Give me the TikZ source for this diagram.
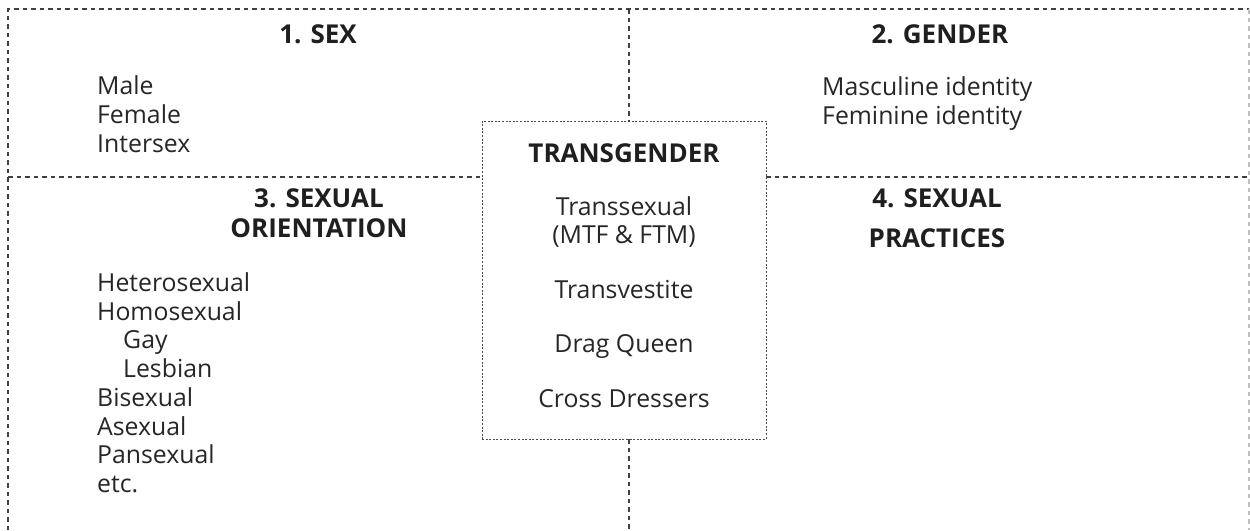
\documentclass[tikz,border=0pt]{standalone}
\usepackage{fontspec}
\setmainfont{Open Sans}
\begin{document}
\begin{tikzpicture}[x=1pt,y=-1pt,
  frame/.style={draw=black!75,line width=1.3pt,dash pattern=on 4.5pt off 4pt},
  lightframe/.style={draw=black!25,line width=1.3pt,dash pattern=on 4.5pt off 4pt},
  innerbox/.style={draw=black!70,line width=0.8pt,dash pattern=on 2pt off 1.6pt},
  head/.style={font=\bfseries\fontsize{26}{30}\selectfont,text=black!88,inner sep=0pt,anchor=base},
  item/.style={font=\fontsize{24.8}{29}\selectfont,text=black!85,inner sep=0pt,anchor=base west},
  citem/.style={font=\fontsize{24.8}{29}\selectfont,text=black!85,inner sep=0pt,anchor=base}]
\useasboundingbox (0,0) rectangle (1250,530);
% corner points of the outer frame and the middle lines
\coordinate (tl) at (8,9);
\coordinate (tr) at (1249,9);
\coordinate (bl) at (8,530);
\coordinate (br) at (1249,530);
\coordinate (ml) at (8,177);
\coordinate (mr) at (1249,177);
\coordinate (mt) at (629,9);
\coordinate (mb) at (629,530);
% the central box
\node[innerbox,inner sep=0pt,minimum width=284pt,minimum height=318pt] (tg) at (624,280) {};
% outer frame
\draw[frame] (bl) -- (tl) -- (tr);
\draw[lightframe] (tr) -- (br);
% dividing lines
\draw[frame] (ml) -- (tg.west |- ml);
\draw[frame] (tg.east |- mr) -- (mr);
\draw[frame] (mt) -- (mt |- tg.north);
\draw[frame] (mb |- tg.south) -- (mb);
% quadrant 1
\node[head] (h1) at (318,43) {1. SEX};
\node[item] (s1) at (97,94) {Male};
\node[item] (s2) at (97,123) {Female};
\node[item] (s3) at (97,152) {Intersex};
% quadrant 2
\node[head] (h2) at (940,43) {2. GENDER};
\node[item] (g1) at (822,95) {Masculine identity};
\node[item] (g2) at (822,124.5) {Feminine identity};
% quadrant 3
\node[head] (h3a) at (319,207) {3. SEXUAL};
\node[head] (h3b) at (319,237) {ORIENTATION};
\node[item] (o1) at (97,291) {Heterosexual};
\node[item] (o2) at (97,320) {Homosexual};
\node[item] (o3) at (123,348.5) {Gay};
\node[item] (o4) at (123,377) {Lesbian};
\node[item] (o5) at (97,406) {Bisexual};
\node[item] (o6) at (97,435) {Asexual};
\node[item] (o7) at (97,463) {Pansexual};
\node[item] (o8) at (97,492) {etc.};
% quadrant 4
\node[head] (h4a) at (937,207) {4. SEXUAL};
\node[head] (h4b) at (937,247) {PRACTICES};
% central box contents
\node[head] (t0) at (624,162) {TRANSGENDER};
\node[citem] (t1) at (624,215) {Transsexual};
\node[citem] (t1b) at (624,243) {(MTF \& FTM)};
\node[citem] (t2) at (624,298) {Transvestite};
\node[citem] (t3) at (624,352) {Drag Queen};
\node[citem] (t4) at (624,407) {Cross Dressers};
\end{tikzpicture}
\end{document}
